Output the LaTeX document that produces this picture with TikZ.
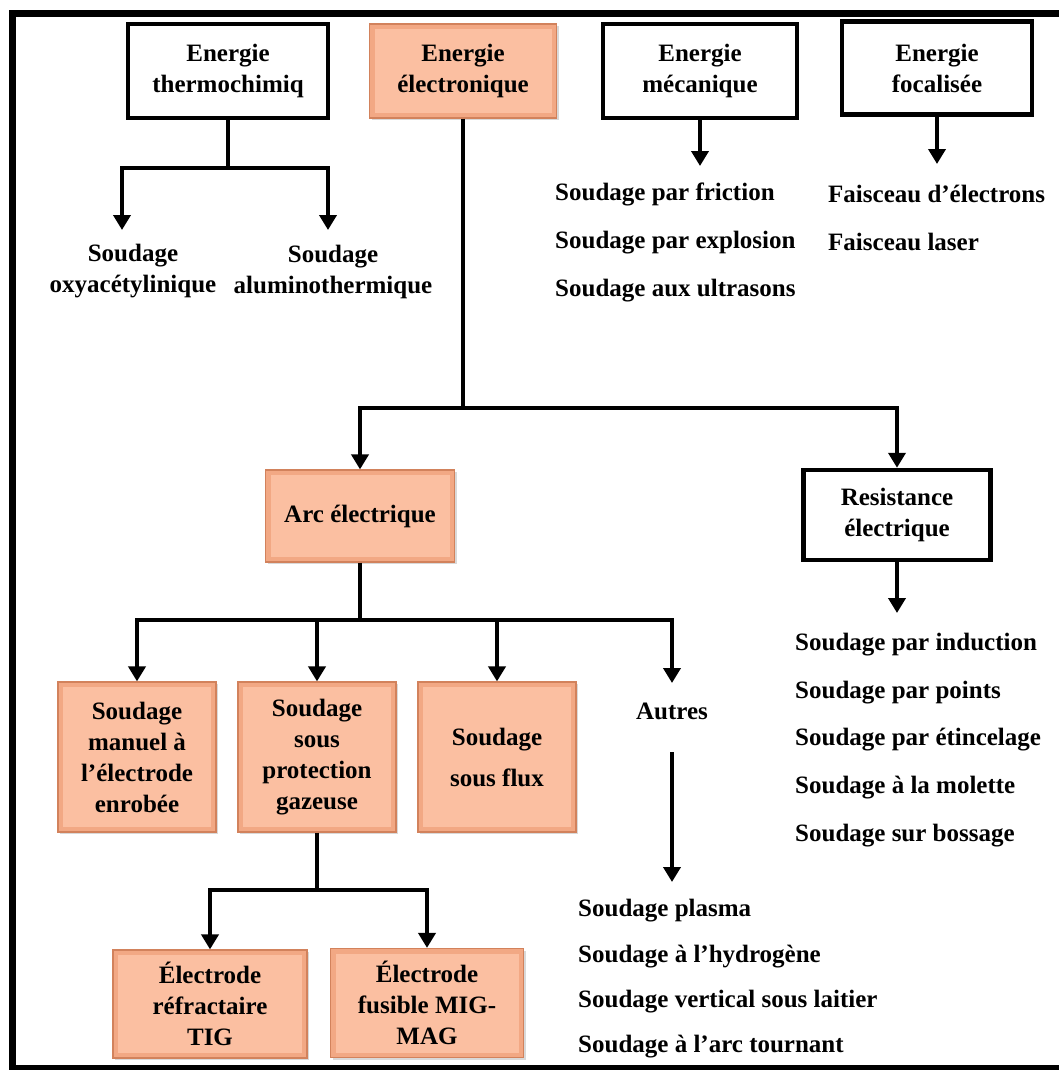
\documentclass[tikz,border=0pt]{standalone}
\usepackage{fontspec}
\setmainfont{Liberation Serif}
\usetikzlibrary{arrows.meta,shadows}

\definecolor{salmonin}{RGB}{251,191,161}
\definecolor{salmonedge}{RGB}{242,168,132}
\definecolor{salmonline}{RGB}{210,130,92}

\begin{document}
\begin{tikzpicture} [
	x=1pt, y=-1pt,
	every node/.style = {font=\fontsize{25}{31}\selectfont\bfseries, align=center, inner sep=0pt},
	link/.style = {line width=4.5pt},
	arrow/.style = {link, -{Triangle[width=17pt,length=15pt]}},
	plain box/.style = {draw, line width=4.5pt, fill=white,
		drop shadow={opacity=0.25, shadow xshift=2pt, shadow yshift=-2pt}},
	bevel box/.style = {draw=salmonline, line width=1.2pt, fill=salmonedge,
		path picture={\fill[salmonin] ([shift={(5pt,5pt)}]path picture bounding box.south west)
			rectangle ([shift={(-5pt,-5pt)}]path picture bounding box.north east);},
		drop shadow={opacity=0.3, shadow xshift=2pt, shadow yshift=-2pt}},
	list/.style = {anchor=west, align=left, font=\fontsize{25}{#1}\selectfont\bfseries}
]
\useasboundingbox (0,0) rectangle (1059,1070);
\draw [line width=7pt] (1062,13.5) -- (12,13.5) -- (12,1068) -- (1062,1068);

% top row
\node [plain box, minimum width=200pt, minimum height=94pt] (thermo) at (228,71) {Energie\\thermochimiq};
\node [bevel box, minimum width=187pt, minimum height=94pt] (elec) at (463,71) {Energie\\électronique};
\node [plain box, minimum width=194pt, minimum height=94pt] (meca) at (700,71) {Energie\\mécanique};
\node [plain box, minimum width=190pt, minimum height=93pt] (foca) at (937,68) {Energie\\focalisée};

\node (oxy) at (133,271) {Soudage\\oxyacétylinique};
\node (alu) at (333,272) {Soudage\\aluminothermique};
\coordinate (t1) at (228,168);
\draw [link] (thermo.south) -- (t1);
\draw [arrow] (t1) -| (122,230);
\draw [arrow] (t1) -| (328,230);

\coordinate (m1) at (700,166);
\draw [arrow] (meca.south) -- (m1);
\node [list=48] (mecalist) at (555,242) {Soudage par friction\\Soudage par explosion\\Soudage aux ultrasons};

\coordinate (f1) at (937,164);
\draw [arrow] (foca.south) -- (f1);
\node [list=48] (focalist) at (828,218) {Faisceau d’électrons\\Faisceau laser};

% electrique
\node [bevel box, minimum width=189pt, minimum height=92pt] (arc) at (360,516) {Arc électrique};
\node [plain box, minimum width=187pt, minimum height=90pt] (res) at (897,515) {Resistance\\électrique};
\coordinate (e1) at (463,408);
\draw [link] (elec.south) -- (e1);
\draw [arrow] (e1) -| (arc.north);
\draw [arrow] (e1) -| (res.north);

\coordinate (r1) at (897,613);
\draw [arrow] (res.south) -- (r1);
\node [list=47.8] (reslist) at (795,740) {Soudage par induction\\Soudage par points\\Soudage par étincelage\\Soudage à la molette\\Soudage sur bossage};

% arc
\node [bevel box, minimum width=158pt, minimum height=150pt] (manuel) at (137,757) {Soudage\\manuel à\\l’électrode\\enrobée};
\node [bevel box, minimum width=158pt, minimum height=150pt] (gaz) at (317,757) {Soudage\\sous\\protection\\gazeuse};
\node [bevel box, minimum width=158pt, minimum height=150pt] (flux) at (497,757) {Soudage\\[10pt]sous flux};
\node (autres) at (672,711) {Autres};
\coordinate (a1) at (360,620);
\draw [link] (arc.south) -- (a1);
\foreach \n in {manuel,gaz,flux}
	\draw [arrow] (a1) -| (\n.north);
\draw [arrow] (a1) -| (autres.north |- 0,683);

\coordinate (o1) at (672,752);
\coordinate (o2) at (672,882);
\draw [arrow] (o1) -- (o2);
\node [list=45.3] (autreslist) at (578,979) {Soudage plasma\\Soudage à l’hydrogène\\Soudage vertical sous laitier\\Soudage à l’arc tournant};

% gaz
\node [bevel box, minimum width=194pt, minimum height=108pt] (tig) at (210,1004) {Électrode\\réfractaire\\TIG};
\node [bevel box, minimum width=193pt, minimum height=109pt] (mig) at (427,1003) {Électrode\\fusible MIG-\\MAG};
\coordinate (g1) at (317,890);
\draw [link] (gaz.south) -- (g1);
\draw [arrow] (g1) -| (tig.north);
\draw [arrow] (g1) -| (mig.north);
\end{tikzpicture}
\end{document}
